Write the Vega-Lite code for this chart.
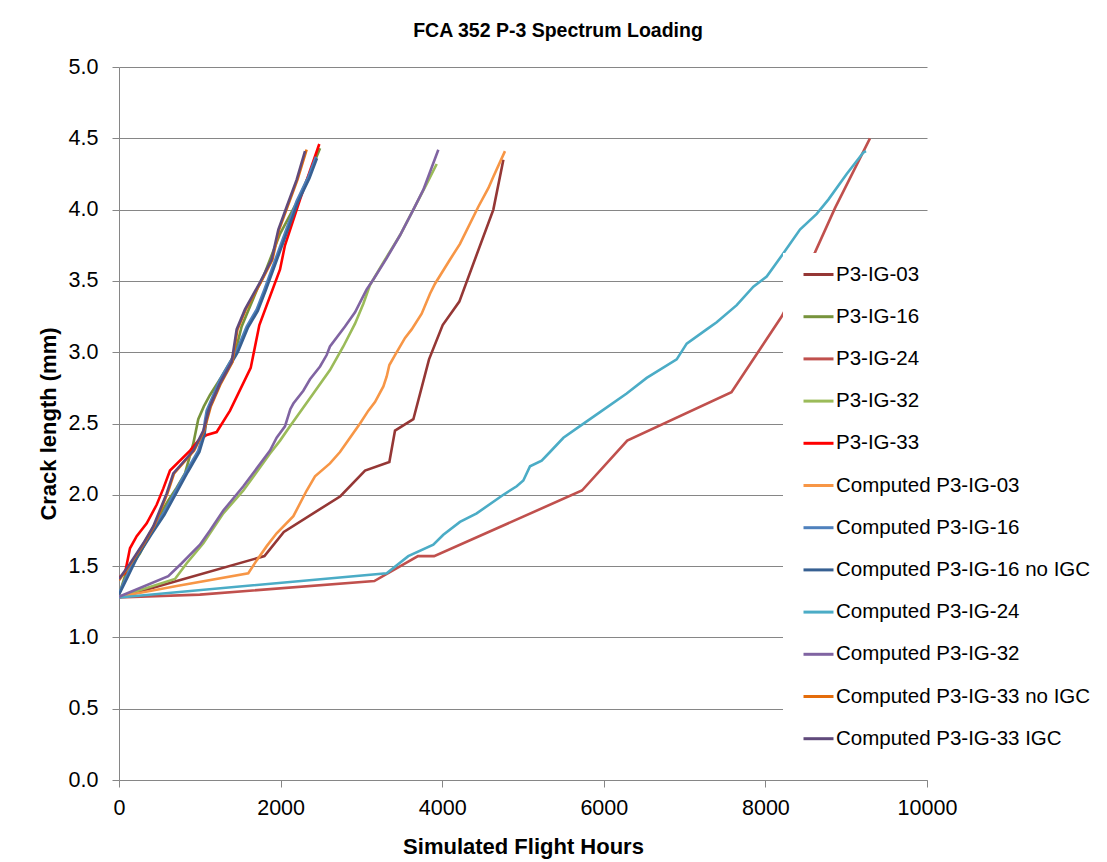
{
  "$schema": "https://vega.github.io/schema/vega-lite/v6.json",
  "autosize": "none",
  "width": 808,
  "height": 713,
  "padding": {"left": 119, "top": 67, "right": 180, "bottom": 82},
  "background": "white",
  "title": {"text": "FCA 352 P-3 Spectrum Loading", "font": "Liberation Sans", "fontSize": 19.5, "fontWeight": "bold", "color": "#000000", "anchor": "middle", "dx": 35, "offset": 15},
  "datasets": {
    "d": [
      {"s": "P3-IG-03", "h": 0, "c": 1.28}, {"s": "P3-IG-03", "h": 1800, "c": 1.57}, {"s": "P3-IG-03", "h": 2040, "c": 1.74}, {"s": "P3-IG-03", "h": 2740, "c": 1.99}, {"s": "P3-IG-03", "h": 3045, "c": 2.17}, {"s": "P3-IG-03", "h": 3346, "c": 2.23}, {"s": "P3-IG-03", "h": 3416, "c": 2.45}, {"s": "P3-IG-03", "h": 3643, "c": 2.53}, {"s": "P3-IG-03", "h": 3837, "c": 2.95}, {"s": "P3-IG-03", "h": 4006, "c": 3.19}, {"s": "P3-IG-03", "h": 4212, "c": 3.355}, {"s": "P3-IG-03", "h": 4633, "c": 4.0}, {"s": "P3-IG-03", "h": 4757, "c": 4.35},
      {"s": "P3-IG-16", "h": 0, "c": 1.3}, {"s": "P3-IG-16", "h": 74, "c": 1.43}, {"s": "P3-IG-16", "h": 260, "c": 1.59}, {"s": "P3-IG-16", "h": 466, "c": 1.82}, {"s": "P3-IG-16", "h": 610, "c": 1.96}, {"s": "P3-IG-16", "h": 714, "c": 2.05}, {"s": "P3-IG-16", "h": 817, "c": 2.15}, {"s": "P3-IG-16", "h": 920, "c": 2.36}, {"s": "P3-IG-16", "h": 981, "c": 2.53}, {"s": "P3-IG-16", "h": 1050, "c": 2.62}, {"s": "P3-IG-16", "h": 1126, "c": 2.7}, {"s": "P3-IG-16", "h": 1250, "c": 2.81}, {"s": "P3-IG-16", "h": 1394, "c": 2.95}, {"s": "P3-IG-16", "h": 1456, "c": 3.04}, {"s": "P3-IG-16", "h": 1518, "c": 3.18}, {"s": "P3-IG-16", "h": 1621, "c": 3.32}, {"s": "P3-IG-16", "h": 1724, "c": 3.46}, {"s": "P3-IG-16", "h": 1786, "c": 3.53}, {"s": "P3-IG-16", "h": 1993, "c": 3.83}, {"s": "P3-IG-16", "h": 2219, "c": 4.07}, {"s": "P3-IG-16", "h": 2350, "c": 4.24}, {"s": "P3-IG-16", "h": 2488, "c": 4.43},
      {"s": "P3-IG-24", "h": 0, "c": 1.28}, {"s": "P3-IG-24", "h": 1000, "c": 1.3}, {"s": "P3-IG-24", "h": 3160, "c": 1.395}, {"s": "P3-IG-24", "h": 3700, "c": 1.57}, {"s": "P3-IG-24", "h": 3900, "c": 1.57}, {"s": "P3-IG-24", "h": 5730, "c": 2.03}, {"s": "P3-IG-24", "h": 6290, "c": 2.38}, {"s": "P3-IG-24", "h": 7580, "c": 2.72}, {"s": "P3-IG-24", "h": 8201, "c": 3.25}, {"s": "P3-IG-24", "h": 8614, "c": 3.7}, {"s": "P3-IG-24", "h": 8861, "c": 4.01}, {"s": "P3-IG-24", "h": 9294, "c": 4.5},
      {"s": "P3-IG-32", "h": 0, "c": 1.285}, {"s": "P3-IG-32", "h": 693, "c": 1.41}, {"s": "P3-IG-32", "h": 838, "c": 1.52}, {"s": "P3-IG-32", "h": 1044, "c": 1.66}, {"s": "P3-IG-32", "h": 1291, "c": 1.87}, {"s": "P3-IG-32", "h": 1539, "c": 2.03}, {"s": "P3-IG-32", "h": 1869, "c": 2.29}, {"s": "P3-IG-32", "h": 1993, "c": 2.38}, {"s": "P3-IG-32", "h": 2116, "c": 2.48}, {"s": "P3-IG-32", "h": 2405, "c": 2.71}, {"s": "P3-IG-32", "h": 2611, "c": 2.875}, {"s": "P3-IG-32", "h": 2776, "c": 3.04}, {"s": "P3-IG-32", "h": 2921, "c": 3.2}, {"s": "P3-IG-32", "h": 3024, "c": 3.34}, {"s": "P3-IG-32", "h": 3106, "c": 3.47}, {"s": "P3-IG-32", "h": 3272, "c": 3.63}, {"s": "P3-IG-32", "h": 3478, "c": 3.82}, {"s": "P3-IG-32", "h": 3643, "c": 4.0}, {"s": "P3-IG-32", "h": 3808, "c": 4.18}, {"s": "P3-IG-32", "h": 3932, "c": 4.32},
      {"s": "P3-IG-33", "h": 0, "c": 1.42}, {"s": "P3-IG-33", "h": 74, "c": 1.45}, {"s": "P3-IG-33", "h": 136, "c": 1.625}, {"s": "P3-IG-33", "h": 219, "c": 1.71}, {"s": "P3-IG-33", "h": 343, "c": 1.8}, {"s": "P3-IG-33", "h": 466, "c": 1.93}, {"s": "P3-IG-33", "h": 549, "c": 2.045}, {"s": "P3-IG-33", "h": 631, "c": 2.17}, {"s": "P3-IG-33", "h": 879, "c": 2.31}, {"s": "P3-IG-33", "h": 981, "c": 2.38}, {"s": "P3-IG-33", "h": 1085, "c": 2.42}, {"s": "P3-IG-33", "h": 1209, "c": 2.44}, {"s": "P3-IG-33", "h": 1374, "c": 2.59}, {"s": "P3-IG-33", "h": 1630, "c": 2.89}, {"s": "P3-IG-33", "h": 1737, "c": 3.19}, {"s": "P3-IG-33", "h": 1993, "c": 3.58}, {"s": "P3-IG-33", "h": 2054, "c": 3.75}, {"s": "P3-IG-33", "h": 2240, "c": 4.07}, {"s": "P3-IG-33", "h": 2479, "c": 4.46},
      {"s": "Computed P3-IG-03", "h": 0, "c": 1.285}, {"s": "Computed P3-IG-03", "h": 714, "c": 1.36}, {"s": "Computed P3-IG-03", "h": 1600, "c": 1.45}, {"s": "Computed P3-IG-03", "h": 1704, "c": 1.54}, {"s": "Computed P3-IG-03", "h": 1828, "c": 1.64}, {"s": "Computed P3-IG-03", "h": 1951, "c": 1.73}, {"s": "Computed P3-IG-03", "h": 2158, "c": 1.85}, {"s": "Computed P3-IG-03", "h": 2323, "c": 2.03}, {"s": "Computed P3-IG-03", "h": 2426, "c": 2.13}, {"s": "Computed P3-IG-03", "h": 2611, "c": 2.22}, {"s": "Computed P3-IG-03", "h": 2735, "c": 2.3}, {"s": "Computed P3-IG-03", "h": 2859, "c": 2.4}, {"s": "Computed P3-IG-03", "h": 2983, "c": 2.5}, {"s": "Computed P3-IG-03", "h": 3086, "c": 2.59}, {"s": "Computed P3-IG-03", "h": 3168, "c": 2.65}, {"s": "Computed P3-IG-03", "h": 3272, "c": 2.76}, {"s": "Computed P3-IG-03", "h": 3313, "c": 2.83}, {"s": "Computed P3-IG-03", "h": 3346, "c": 2.91}, {"s": "Computed P3-IG-03", "h": 3416, "c": 2.98}, {"s": "Computed P3-IG-03", "h": 3540, "c": 3.1}, {"s": "Computed P3-IG-03", "h": 3622, "c": 3.16}, {"s": "Computed P3-IG-03", "h": 3746, "c": 3.27}, {"s": "Computed P3-IG-03", "h": 3849, "c": 3.41}, {"s": "Computed P3-IG-03", "h": 3911, "c": 3.48}, {"s": "Computed P3-IG-03", "h": 4097, "c": 3.65}, {"s": "Computed P3-IG-03", "h": 4220, "c": 3.76}, {"s": "Computed P3-IG-03", "h": 4447, "c": 4.02}, {"s": "Computed P3-IG-03", "h": 4571, "c": 4.15}, {"s": "Computed P3-IG-03", "h": 4633, "c": 4.23}, {"s": "Computed P3-IG-03", "h": 4777, "c": 4.41},
      {"s": "Computed P3-IG-16", "h": 0, "c": 1.31}, {"s": "Computed P3-IG-16", "h": 95, "c": 1.43}, {"s": "Computed P3-IG-16", "h": 219, "c": 1.58}, {"s": "Computed P3-IG-16", "h": 384, "c": 1.73}, {"s": "Computed P3-IG-16", "h": 549, "c": 1.87}, {"s": "Computed P3-IG-16", "h": 693, "c": 2.02}, {"s": "Computed P3-IG-16", "h": 838, "c": 2.17}, {"s": "Computed P3-IG-16", "h": 981, "c": 2.31}, {"s": "Computed P3-IG-16", "h": 1044, "c": 2.43}, {"s": "Computed P3-IG-16", "h": 1064, "c": 2.52}, {"s": "Computed P3-IG-16", "h": 1085, "c": 2.59}, {"s": "Computed P3-IG-16", "h": 1250, "c": 2.81}, {"s": "Computed P3-IG-16", "h": 1456, "c": 3.01}, {"s": "Computed P3-IG-16", "h": 1580, "c": 3.18}, {"s": "Computed P3-IG-16", "h": 1704, "c": 3.3}, {"s": "Computed P3-IG-16", "h": 1800, "c": 3.44}, {"s": "Computed P3-IG-16", "h": 1993, "c": 3.74}, {"s": "Computed P3-IG-16", "h": 2199, "c": 4.06}, {"s": "Computed P3-IG-16", "h": 2343, "c": 4.23}, {"s": "Computed P3-IG-16", "h": 2438, "c": 4.37},
      {"s": "Computed P3-IG-16 no IGC", "h": 0, "c": 1.3}, {"s": "Computed P3-IG-16 no IGC", "h": 105, "c": 1.42}, {"s": "Computed P3-IG-16 no IGC", "h": 232, "c": 1.57}, {"s": "Computed P3-IG-16 no IGC", "h": 398, "c": 1.72}, {"s": "Computed P3-IG-16 no IGC", "h": 562, "c": 1.86}, {"s": "Computed P3-IG-16 no IGC", "h": 707, "c": 2.01}, {"s": "Computed P3-IG-16 no IGC", "h": 852, "c": 2.16}, {"s": "Computed P3-IG-16 no IGC", "h": 995, "c": 2.3}, {"s": "Computed P3-IG-16 no IGC", "h": 1058, "c": 2.42}, {"s": "Computed P3-IG-16 no IGC", "h": 1078, "c": 2.51}, {"s": "Computed P3-IG-16 no IGC", "h": 1099, "c": 2.58}, {"s": "Computed P3-IG-16 no IGC", "h": 1264, "c": 2.8}, {"s": "Computed P3-IG-16 no IGC", "h": 1470, "c": 3.0}, {"s": "Computed P3-IG-16 no IGC", "h": 1594, "c": 3.17}, {"s": "Computed P3-IG-16 no IGC", "h": 1718, "c": 3.29}, {"s": "Computed P3-IG-16 no IGC", "h": 1814, "c": 3.43}, {"s": "Computed P3-IG-16 no IGC", "h": 2007, "c": 3.73}, {"s": "Computed P3-IG-16 no IGC", "h": 2213, "c": 4.05}, {"s": "Computed P3-IG-16 no IGC", "h": 2357, "c": 4.22}, {"s": "Computed P3-IG-16 no IGC", "h": 2450, "c": 4.36},
      {"s": "Computed P3-IG-24", "h": 0, "c": 1.28}, {"s": "Computed P3-IG-24", "h": 3313, "c": 1.45}, {"s": "Computed P3-IG-24", "h": 3580, "c": 1.57}, {"s": "Computed P3-IG-24", "h": 3890, "c": 1.65}, {"s": "Computed P3-IG-24", "h": 4014, "c": 1.72}, {"s": "Computed P3-IG-24", "h": 4220, "c": 1.81}, {"s": "Computed P3-IG-24", "h": 4427, "c": 1.87}, {"s": "Computed P3-IG-24", "h": 4757, "c": 2.0}, {"s": "Computed P3-IG-24", "h": 4922, "c": 2.06}, {"s": "Computed P3-IG-24", "h": 5004, "c": 2.1}, {"s": "Computed P3-IG-24", "h": 5087, "c": 2.2}, {"s": "Computed P3-IG-24", "h": 5231, "c": 2.24}, {"s": "Computed P3-IG-24", "h": 5334, "c": 2.3}, {"s": "Computed P3-IG-24", "h": 5500, "c": 2.4}, {"s": "Computed P3-IG-24", "h": 5700, "c": 2.48}, {"s": "Computed P3-IG-24", "h": 5953, "c": 2.58}, {"s": "Computed P3-IG-24", "h": 6283, "c": 2.71}, {"s": "Computed P3-IG-24", "h": 6531, "c": 2.82}, {"s": "Computed P3-IG-24", "h": 6902, "c": 2.95}, {"s": "Computed P3-IG-24", "h": 7026, "c": 3.06}, {"s": "Computed P3-IG-24", "h": 7273, "c": 3.16}, {"s": "Computed P3-IG-24", "h": 7397, "c": 3.21}, {"s": "Computed P3-IG-24", "h": 7645, "c": 3.33}, {"s": "Computed P3-IG-24", "h": 7851, "c": 3.46}, {"s": "Computed P3-IG-24", "h": 8016, "c": 3.53}, {"s": "Computed P3-IG-24", "h": 8181, "c": 3.66}, {"s": "Computed P3-IG-24", "h": 8428, "c": 3.86}, {"s": "Computed P3-IG-24", "h": 8635, "c": 3.97}, {"s": "Computed P3-IG-24", "h": 8779, "c": 4.07}, {"s": "Computed P3-IG-24", "h": 9006, "c": 4.25}, {"s": "Computed P3-IG-24", "h": 9212, "c": 4.4}, {"s": "Computed P3-IG-24", "h": 9245, "c": 4.41},
      {"s": "Computed P3-IG-32", "h": 0, "c": 1.285}, {"s": "Computed P3-IG-32", "h": 610, "c": 1.43}, {"s": "Computed P3-IG-32", "h": 776, "c": 1.52}, {"s": "Computed P3-IG-32", "h": 1002, "c": 1.65}, {"s": "Computed P3-IG-32", "h": 1126, "c": 1.75}, {"s": "Computed P3-IG-32", "h": 1291, "c": 1.89}, {"s": "Computed P3-IG-32", "h": 1539, "c": 2.06}, {"s": "Computed P3-IG-32", "h": 1869, "c": 2.31}, {"s": "Computed P3-IG-32", "h": 1951, "c": 2.4}, {"s": "Computed P3-IG-32", "h": 2054, "c": 2.48}, {"s": "Computed P3-IG-32", "h": 2120, "c": 2.6}, {"s": "Computed P3-IG-32", "h": 2158, "c": 2.64}, {"s": "Computed P3-IG-32", "h": 2281, "c": 2.73}, {"s": "Computed P3-IG-32", "h": 2364, "c": 2.81}, {"s": "Computed P3-IG-32", "h": 2488, "c": 2.9}, {"s": "Computed P3-IG-32", "h": 2570, "c": 2.98}, {"s": "Computed P3-IG-32", "h": 2611, "c": 3.04}, {"s": "Computed P3-IG-32", "h": 2797, "c": 3.18}, {"s": "Computed P3-IG-32", "h": 2921, "c": 3.28}, {"s": "Computed P3-IG-32", "h": 3065, "c": 3.44}, {"s": "Computed P3-IG-32", "h": 3148, "c": 3.51}, {"s": "Computed P3-IG-32", "h": 3313, "c": 3.66}, {"s": "Computed P3-IG-32", "h": 3478, "c": 3.82}, {"s": "Computed P3-IG-32", "h": 3643, "c": 4.0}, {"s": "Computed P3-IG-32", "h": 3767, "c": 4.14}, {"s": "Computed P3-IG-32", "h": 3952, "c": 4.42},
      {"s": "Computed P3-IG-33 no IGC", "h": 0, "c": 1.4}, {"s": "Computed P3-IG-33 no IGC", "h": 125, "c": 1.5}, {"s": "Computed P3-IG-33 no IGC", "h": 311, "c": 1.66}, {"s": "Computed P3-IG-33 no IGC", "h": 435, "c": 1.78}, {"s": "Computed P3-IG-33 no IGC", "h": 600, "c": 2.01}, {"s": "Computed P3-IG-33 no IGC", "h": 682, "c": 2.15}, {"s": "Computed P3-IG-33 no IGC", "h": 806, "c": 2.23}, {"s": "Computed P3-IG-33 no IGC", "h": 930, "c": 2.31}, {"s": "Computed P3-IG-33 no IGC", "h": 1054, "c": 2.45}, {"s": "Computed P3-IG-33 no IGC", "h": 1136, "c": 2.62}, {"s": "Computed P3-IG-33 no IGC", "h": 1260, "c": 2.78}, {"s": "Computed P3-IG-33 no IGC", "h": 1404, "c": 2.93}, {"s": "Computed P3-IG-33 no IGC", "h": 1466, "c": 3.16}, {"s": "Computed P3-IG-33 no IGC", "h": 1569, "c": 3.3}, {"s": "Computed P3-IG-33 no IGC", "h": 1755, "c": 3.49}, {"s": "Computed P3-IG-33 no IGC", "h": 1899, "c": 3.65}, {"s": "Computed P3-IG-33 no IGC", "h": 1982, "c": 3.86}, {"s": "Computed P3-IG-33 no IGC", "h": 2085, "c": 4.02}, {"s": "Computed P3-IG-33 no IGC", "h": 2209, "c": 4.21}, {"s": "Computed P3-IG-33 no IGC", "h": 2322, "c": 4.42},
      {"s": "Computed P3-IG-33 IGC", "h": 0, "c": 1.41}, {"s": "Computed P3-IG-33 IGC", "h": 115, "c": 1.5}, {"s": "Computed P3-IG-33 IGC", "h": 301, "c": 1.66}, {"s": "Computed P3-IG-33 IGC", "h": 425, "c": 1.78}, {"s": "Computed P3-IG-33 IGC", "h": 590, "c": 2.01}, {"s": "Computed P3-IG-33 IGC", "h": 672, "c": 2.15}, {"s": "Computed P3-IG-33 IGC", "h": 796, "c": 2.23}, {"s": "Computed P3-IG-33 IGC", "h": 920, "c": 2.31}, {"s": "Computed P3-IG-33 IGC", "h": 1044, "c": 2.45}, {"s": "Computed P3-IG-33 IGC", "h": 1126, "c": 2.62}, {"s": "Computed P3-IG-33 IGC", "h": 1250, "c": 2.78}, {"s": "Computed P3-IG-33 IGC", "h": 1394, "c": 2.93}, {"s": "Computed P3-IG-33 IGC", "h": 1456, "c": 3.16}, {"s": "Computed P3-IG-33 IGC", "h": 1559, "c": 3.3}, {"s": "Computed P3-IG-33 IGC", "h": 1745, "c": 3.49}, {"s": "Computed P3-IG-33 IGC", "h": 1889, "c": 3.65}, {"s": "Computed P3-IG-33 IGC", "h": 1972, "c": 3.86}, {"s": "Computed P3-IG-33 IGC", "h": 2075, "c": 4.02}, {"s": "Computed P3-IG-33 IGC", "h": 2199, "c": 4.21}, {"s": "Computed P3-IG-33 IGC", "h": 2302, "c": 4.41}
    ]
  },
  "data": {"name": "d"},
  "mark": {"type": "line", "strokeWidth": 2.6, "clip": true},
  "encoding": {
    "x": {"field": "h", "type": "quantitative", "scale": {"domain": [0, 10000], "nice": false},
      "axis": {"title": "Simulated Flight Hours", "values": [0, 2000, 4000, 6000, 8000, 10000], "grid": false, "format": "d", "labelFlush": false}},
    "y": {"field": "c", "type": "quantitative", "scale": {"domain": [0, 5], "nice": false},
      "axis": {"title": "Crack length (mm)", "values": [0, 0.5, 1, 1.5, 2, 2.5, 3, 3.5, 4, 4.5, 5], "format": ".1f", "grid": true, "labelPadding": 14, "titlePadding": 8}},
    "color": {"field": "s", "type": "nominal", "title": null,
      "scale": {"domain": ["P3-IG-03", "P3-IG-16", "P3-IG-24", "P3-IG-32", "P3-IG-33", "Computed P3-IG-03", "Computed P3-IG-16", "Computed P3-IG-16 no IGC", "Computed P3-IG-24", "Computed P3-IG-32", "Computed P3-IG-33 no IGC", "Computed P3-IG-33 IGC"],
        "range": ["#953735", "#77933C", "#C0504D", "#9BBB59", "#FF0000", "#F79646", "#4F81BD", "#376092", "#4BACC6", "#8064A2", "#E46C0A", "#604A7B"]},
      "legend": {"orient": "none", "legendX": 664, "legendY": 186, "fillColor": "white", "padding": 5, "symbolType": "stroke", "symbolSize": 900, "symbolStrokeWidth": 3, "symbolOffset": 14, "labelOffset": 1, "rowPadding": 15.2, "labelFont": "Liberation Sans", "labelFontSize": 20.5, "labelColor": "#000000", "labelLimit": 400}}
  },
  "config": {
    "view": {"stroke": null},
    "axis": {"domainColor": "#868686", "tickColor": "#868686", "gridColor": "#868686", "gridWidth": 1, "domainWidth": 1, "tickWidth": 1, "tickSize": 7,
      "labelFont": "Liberation Sans", "labelFontSize": 21.5, "labelColor": "#000000",
      "titleFont": "Liberation Sans", "titleFontSize": 22, "titleFontWeight": "bold", "titleColor": "#000000"},
    "axisX": {"labelPadding": 10, "titlePadding": 18}
  }
}
